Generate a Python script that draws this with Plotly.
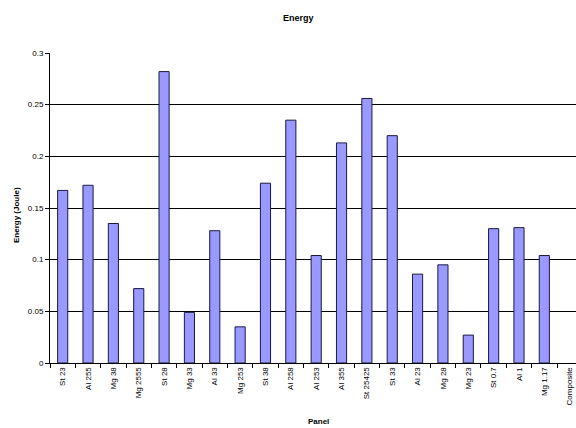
import plotly.graph_objects as go

panels = ["St 23", "Al 255", "Mg 38", "Mg 2555", "St 28", "Mg 33", "Al 33", "Mg 253",
          "St 38", "Al 258", "Al 253", "Al 355", "St 25425", "St 33", "Al 23", "Mg 28",
          "Mg 23", "St 0.7", "Al 1", "Mg 1.17", "Composite"]
energy = [0.167, 0.172, 0.135, 0.072, 0.282, 0.049, 0.128, 0.035,
          0.174, 0.235, 0.104, 0.213, 0.256, 0.220, 0.086, 0.095,
          0.027, 0.130, 0.131, 0.104, 0.0]
y_ticks = [0, 0.05, 0.1, 0.15, 0.2, 0.25, 0.3]

W, H = 576, 428
L, R, T, B = 50, 0, 53, 65
pw, ph = W - L - R, H - T - B
CAT_PX = 25.35  # horizontal space taken by one category


def px_x(x):
    return (x - L) / pw


def px_y(y):
    return (H - B - y) / ph


FONT = "Liberation Sans, Arial, sans-serif"

fig = go.Figure(
    go.Bar(
        x=panels,
        y=energy,
        width=0.4,
        marker=dict(
            color="#9999FF",
            line=dict(color="#1a1a40", width=[1 if v > 0 else 0 for v in energy]),
        ),
    )
)

fig.update_layout(
    width=W,
    height=H,
    margin=dict(l=L, r=R, t=T, b=B, pad=0),
    paper_bgcolor="white",
    plot_bgcolor="white",
    showlegend=False,
    font=dict(family=FONT, size=8, color="black"),
    xaxis=dict(
        type="category",
        range=[-0.5, pw / CAT_PX - 0.5],
        tickangle=-90,
        tickson="boundaries",
        ticks="outside",
        ticklen=4,
        tickcolor="black",
        showline=True,
        linecolor="black",
        linewidth=1,
        showgrid=False,
        tickfont=dict(family=FONT, size=8),
        automargin=False,
    ),
    yaxis=dict(
        range=[0, 0.3],
        tickvals=y_ticks,
        ticktext=[f"{v:g}" for v in y_ticks],
        ticks="outside",
        ticklen=4,
        tickcolor="black",
        showline=True,
        linecolor="black",
        linewidth=1,
        showgrid=True,
        gridcolor="black",
        gridwidth=1,
        zeroline=False,
        tickfont=dict(family=FONT, size=8),
        automargin=False,
    ),
    annotations=[
        dict(text="<b>Energy</b>", xref="paper", yref="paper",
             x=px_x(298), y=px_y(18), showarrow=False,
             font=dict(family=FONT, size=9), xanchor="center", yanchor="middle"),
        dict(text="<b>Energy (Joule)</b>", xref="paper", yref="paper",
             x=px_x(16), y=px_y(215), showarrow=False, textangle=-90,
             font=dict(family=FONT, size=8), xanchor="center", yanchor="middle"),
        dict(text="<b>Panel</b>", xref="paper", yref="paper",
             x=px_x(318), y=px_y(421), showarrow=False,
             font=dict(family=FONT, size=8), xanchor="center", yanchor="middle"),
    ],
)

fig.write_html("out.html")
